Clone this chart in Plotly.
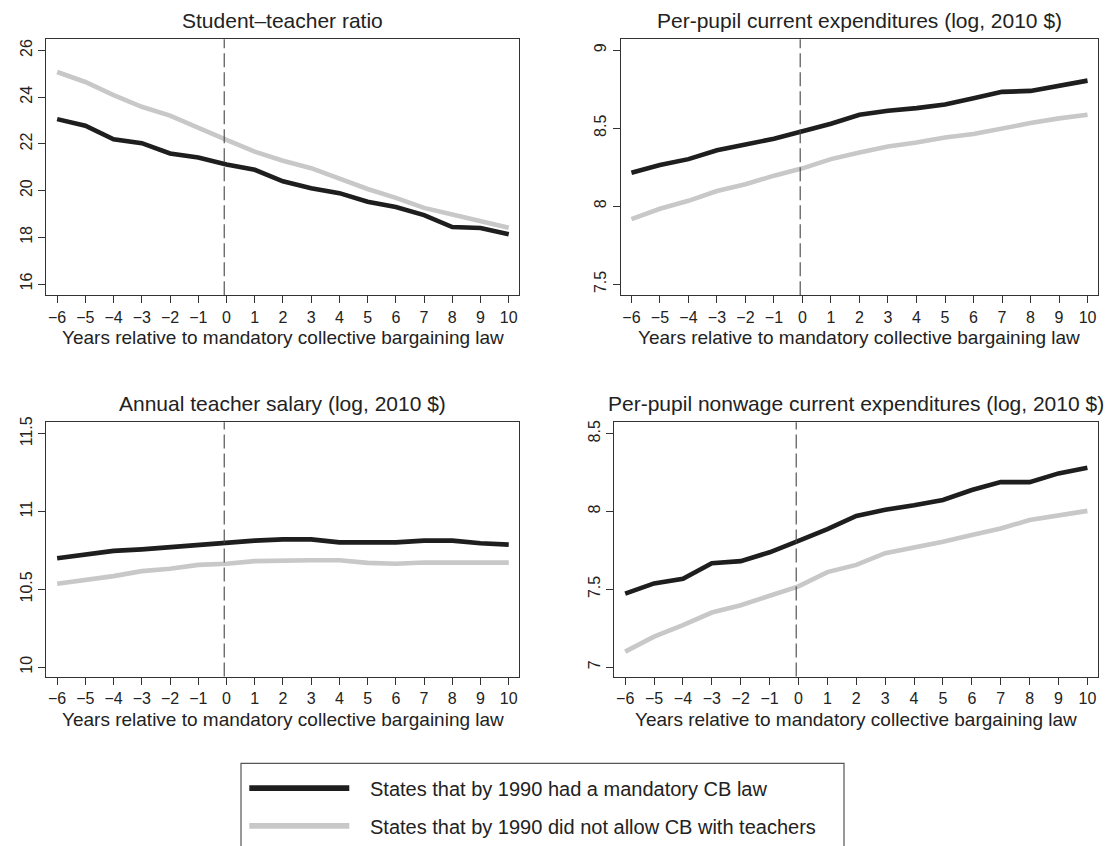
import plotly.graph_objects as go

W, H = 1112, 846

years = list(range(-6, 11))

# Series: states with a mandatory CB law by 1990 vs states not allowing CB
ratio_cb = [23.06, 22.78, 22.20, 22.03, 21.59, 21.42, 21.12, 20.89, 20.40, 20.10, 19.89, 19.52, 19.30, 18.95, 18.44, 18.40, 18.13]
ratio_no = [25.08, 24.65, 24.09, 23.59, 23.21, 22.67, 22.17, 21.67, 21.28, 20.96, 20.50, 20.07, 19.69, 19.26, 18.98, 18.67, 18.41]

exp_cb = [8.215, 8.264, 8.302, 8.359, 8.395, 8.433, 8.480, 8.529, 8.586, 8.612, 8.629, 8.652, 8.692, 8.733, 8.739, 8.773, 8.805]
exp_no = [7.918, 7.984, 8.035, 8.098, 8.141, 8.196, 8.243, 8.302, 8.344, 8.383, 8.408, 8.440, 8.463, 8.499, 8.533, 8.563, 8.586]

sal_cb = [10.700, 10.721, 10.747, 10.757, 10.772, 10.789, 10.804, 10.813, 10.821, 10.821, 10.802, 10.802, 10.802, 10.813, 10.813, 10.796, 10.787]
sal_no = [10.536, 10.560, 10.585, 10.617, 10.632, 10.657, 10.664, 10.681, 10.687, 10.687, 10.687, 10.670, 10.664, 10.672, 10.672, 10.672, 10.672]

nw_cb = [7.472, 7.538, 7.568, 7.668, 7.681, 7.738, 7.811, 7.887, 7.972, 8.011, 8.040, 8.074, 8.138, 8.189, 8.189, 8.245, 8.281]
nw_no = [7.100, 7.196, 7.270, 7.351, 7.398, 7.455, 7.519, 7.611, 7.657, 7.732, 7.766, 7.806, 7.849, 7.891, 7.945, 7.977, 8.004]

panel_titles = [
    "Student\u2013teacher ratio",
    "Per-pupil current expenditures (log, 2010 $)",
    "Annual teacher salary (log, 2010 $)",
    "Per-pupil nonwage current expenditures (log, 2010 $)",
]
x_title = "Years relative to mandatory collective bargaining law"
legend_labels = [
    "States that by 1990 had a mandatory CB law",
    "States that by 1990 did not allow CB with teachers",
]

y_ticks = [
    ([16, 18, 20, 22, 24, 26], ["16", "18", "20", "22", "24", "26"]),
    ([7.5, 8, 8.5, 9], ["7.5", "8", "8.5", "9"]),
    ([10, 10.5, 11, 11.5], ["10", "10.5", "11", "11.5"]),
    ([7, 7.5, 8, 8.5], ["7", "7.5", "8", "8.5"]),
]
y_ranges = [[15.52, 26.48], [7.43, 9.07], [9.94, 11.573], [6.94, 8.573]]
x_range = [-6.38, 10.36]
law_year = -0.08

x_tick_text = [("\u2212" + str(-v)) if v < 0 else str(v) for v in years]

DARK = "#1e1e1e"
LIGHT = "#c8c8c8"
AXIS = "#333333"
TEXT = "#222222"
FONT = "Liberation Sans, Arial, sans-serif"


def px(x):
    return x / W


def py(y):
    return 1 - y / H


# plot boxes in pixels: (left, right, top, bottom)
boxes = [
    (46.4, 518.9, 33.5, 291.3),
    (620.6, 1097.8, 33.5, 291.3),
    (46.4, 518.9, 419.3, 675.3),
    (614.2, 1097.8, 419.3, 675.3),
]

series = [(ratio_cb, ratio_no), (exp_cb, exp_no), (sal_cb, sal_no), (nw_cb, nw_no)]

fig = go.Figure()
layout = dict(
    width=W, height=H, margin=dict(l=0, r=0, t=0, b=0),
    paper_bgcolor="white", plot_bgcolor="white", showlegend=False,
    font=dict(family=FONT, color=TEXT),
)
shapes = []
annotations = []

for i, ((l, r, t, b), (cb, no)) in enumerate(zip(boxes, series)):
    n = i + 1
    xa = "xaxis" if n == 1 else f"xaxis{n}"
    ya = "yaxis" if n == 1 else f"yaxis{n}"
    xref = "x" if n == 1 else f"x{n}"
    yref = "y" if n == 1 else f"y{n}"
    layout[xa] = dict(
        domain=[px(l), px(r)], anchor=yref, range=x_range,
        tickmode="array", tickvals=years, ticktext=x_tick_text,
        showline=True, mirror=True, linecolor=AXIS, linewidth=1.2,
        ticks="outside", ticklen=7, tickwidth=1.2, tickcolor=AXIS,
        showgrid=False, zeroline=False,
        tickfont=dict(size=16, color=TEXT, family=FONT),
    )
    tv, tt = y_ticks[i]
    layout[ya] = dict(
        domain=[py(b), py(t)], anchor=xref, range=y_ranges[i],
        tickmode="array", tickvals=tv, ticktext=tt, tickangle=-90,
        showline=True, mirror=True, linecolor=AXIS, linewidth=1.2,
        ticks="outside", ticklen=7, tickwidth=1.2, tickcolor=AXIS,
        showgrid=False, zeroline=False,
        tickfont=dict(size=16, color=TEXT, family=FONT),
    )
    fig.add_trace(go.Scatter(x=years, y=cb, mode="lines", xaxis=xref, yaxis=yref,
                             line=dict(color=DARK, width=4.6), name=legend_labels[0]))
    fig.add_trace(go.Scatter(x=years, y=no, mode="lines", xaxis=xref, yaxis=yref,
                             line=dict(color=LIGHT, width=4.6), name=legend_labels[1]))
    # dashed marker for the year the law took effect
    shapes.append(dict(type="line", xref=xref, yref=f"{yref} domain",
                       x0=law_year, x1=law_year, y0=0, y1=1,
                       line=dict(color="#444444", width=1.1, dash="14px,5px")))
    # panel title
    annotations.append(dict(text=panel_titles[i], x=px((l + r) / 2), y=py(t - 19),
                            xref="paper", yref="paper", xanchor="center", yanchor="middle",
                            showarrow=False, font=dict(size=21, color=TEXT, family=FONT)))
    # x axis title
    annotations.append(dict(text=x_title, x=px((l + r) / 2), y=py(b + 43),
                            xref="paper", yref="paper", xanchor="center", yanchor="middle",
                            showarrow=False, font=dict(size=19, color=TEXT, family=FONT)))

# legend box
shapes.append(dict(type="rect", xref="paper", yref="paper",
                   x0=px(241), x1=px(844), y0=py(862), y1=py(762.7),
                   line=dict(color="#555555", width=1.2), fillcolor="rgba(0,0,0,0)"))
for label, color, ly in [(legend_labels[0], DARK, 787.7), (legend_labels[1], LIGHT, 825.7)]:
    shapes.append(dict(type="line", xref="paper", yref="paper",
                       x0=px(249.3), x1=px(349.3), y0=py(ly), y1=py(ly),
                       line=dict(color=color, width=5.7)))
    annotations.append(dict(text=label, x=px(367.7), y=py(ly + 1), xref="paper", yref="paper",
                            xanchor="left", yanchor="middle", showarrow=False,
                            font=dict(size=20, color=TEXT, family=FONT)))

layout["shapes"] = shapes
layout["annotations"] = annotations
fig.update_layout(**layout)
fig.write_html("out.html")
